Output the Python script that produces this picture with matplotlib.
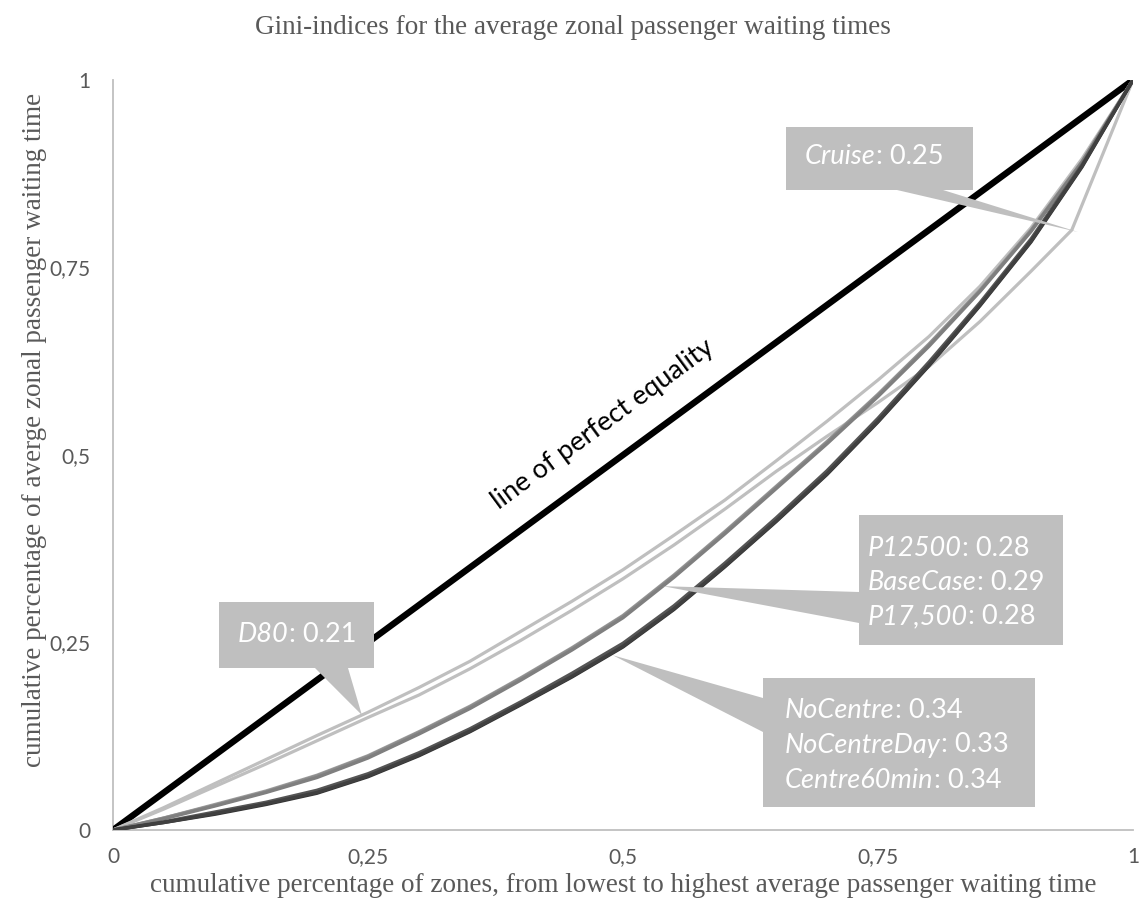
import numpy as np
import matplotlib
matplotlib.use("Agg")
import matplotlib.pyplot as plt
from matplotlib.patches import Polygon

# ---------------- data ----------------
x = [0.00, 0.05, 0.10, 0.15, 0.20, 0.25, 0.30, 0.35, 0.40, 0.45, 0.50,
     0.55, 0.60, 0.65, 0.70, 0.75, 0.80, 0.85, 0.90, 0.95, 1.00]

d80 = [0, 0.030, 0.062, 0.094, 0.126, 0.157, 0.190, 0.225, 0.265, 0.305, 0.347,
       0.393, 0.440, 0.492, 0.545, 0.600, 0.658, 0.725, 0.803, 0.895, 1]

cruise_x = [0.00, 0.05, 0.10, 0.15, 0.20, 0.25, 0.30, 0.35, 0.40, 0.45, 0.50,
            0.55, 0.60, 0.65, 0.70, 0.75, 0.80, 0.85, 0.90, 0.94, 0.97, 1.00]
cruise = [0, 0.028, 0.058, 0.088, 0.119, 0.150, 0.180, 0.215, 0.253, 0.293, 0.335,
          0.380, 0.428, 0.478, 0.525, 0.570, 0.618, 0.678, 0.745, 0.800, 0.900, 1]

p12500 = [0, 0.016, 0.034, 0.052, 0.073, 0.099, 0.131, 0.165, 0.203, 0.243, 0.286,
          0.340, 0.398, 0.458, 0.518, 0.581, 0.648, 0.720, 0.800, 0.891, 1]
basecase = [0, 0.015, 0.032, 0.050, 0.070, 0.096, 0.128, 0.162, 0.200, 0.240, 0.283,
            0.337, 0.395, 0.455, 0.515, 0.578, 0.645, 0.718, 0.798, 0.890, 1]
p17500 = [0, 0.016, 0.033, 0.051, 0.072, 0.098, 0.130, 0.164, 0.202, 0.242, 0.285,
          0.339, 0.397, 0.457, 0.517, 0.580, 0.647, 0.719, 0.799, 0.891, 1]

nocentre = [0, 0.010, 0.022, 0.035, 0.050, 0.072, 0.100, 0.132, 0.168, 0.205, 0.245,
            0.295, 0.352, 0.412, 0.475, 0.545, 0.620, 0.700, 0.785, 0.885, 1]
nocentreday = [0, 0.011, 0.024, 0.037, 0.053, 0.075, 0.103, 0.135, 0.171, 0.209, 0.249,
               0.299, 0.356, 0.416, 0.479, 0.549, 0.624, 0.703, 0.788, 0.887, 1]
centre60min = [0, 0.010, 0.021, 0.034, 0.049, 0.071, 0.099, 0.131, 0.167, 0.204, 0.244,
               0.294, 0.351, 0.411, 0.474, 0.544, 0.619, 0.699, 0.784, 0.884, 1]

equality = [0, 1]

ticks = [0, 0.25, 0.5, 0.75, 1]
tick_labels = ["0", "0,25", "0,5", "0,75", "1"]

callout_texts = {
    "cruise": [("Cruise", "0.25")],
    "d80": [("D80", "0.21")],
    "mid": [("P12500", "0.28"), ("BaseCase", "0.29"), ("P17,500", "0.28")],
    "dark": [("NoCentre", "0.34"), ("NoCentreDay", "0.33"), ("Centre60min", "0.34")],
}

# ---------------- figure ----------------
W, H = 1145, 915
fig = plt.figure(figsize=(W / 100, H / 100), dpi=100)
L, R, T, B = 113, 1133, 80, 830
ax = fig.add_axes([L / W, 1 - B / H, (R - L) / W, (B - T) / H])
ax.set_xlim(0, 1)
ax.set_ylim(0, 1)

def px(xp, yp):
    """pixel position of the reference -> axes/data coordinates"""
    return ((xp - L) / (R - L), (B - yp) / (B - T))

ax.plot(equality, equality, color="black", lw=4.6, solid_capstyle="butt", zorder=2)

light = "#BFBFBF"
ax.plot(cruise_x, cruise, color=light, lw=2.3, zorder=3)
ax.plot(x, d80, color=light, lw=2.3, zorder=3)
ax.plot(x, p12500, color="#A0A0A0", lw=2.4, zorder=3)
ax.plot(x, p17500, color="#8C8C8C", lw=2.4, zorder=3)
ax.plot(x, basecase, color="#7F7F7F", lw=2.4, zorder=3)
ax.plot(x, nocentreday, color="#555555", lw=2.4, zorder=3)
ax.plot(x, centre60min, color="#333333", lw=2.4, zorder=3)
ax.plot(x, nocentre, color="#404040", lw=2.4, zorder=3)

for s in ["top", "right"]:
    ax.spines[s].set_visible(False)
for s in ["left", "bottom"]:
    ax.spines[s].set_color("#BFBFBF")
    ax.spines[s].set_linewidth(1.3)
    ax.spines[s].set_zorder(1)

tickfont = dict(family="Lato", size=15, color="#595959")
ax.set_xticks(ticks)
ax.set_xticklabels(tick_labels, **tickfont)
ax.set_yticks(ticks)
ax.set_yticklabels(tick_labels, **tickfont)
ax.tick_params(axis="both", length=0)
ax.tick_params(axis="x", pad=12)
ax.tick_params(axis="y", pad=16)

serif = dict(family="Liberation Serif", size=19.5, color="#595959")
fig.text(0.5, 1 - 27 / H, "Gini-indices for the average zonal passenger waiting times",
         ha="center", va="center", **serif)
fig.text((L + R) / 2 / W, 1 - 885 / H,
         "cumulative percentage of zones, from lowest to highest average passenger waiting time",
         ha="center", va="center", **serif)
fig.text(35 / W, 1 - 430 / H, "cumulative percentage of averge zonal passenger waiting time",
         ha="center", va="center", rotation=90, **serif)

# line of perfect equality label
ang = np.degrees(np.arctan2((B - T), (R - L)))
ax.text(*px(603, 424), "line of perfect equality", rotation=ang, rotation_mode="anchor",
        ha="center", va="center", family="Lato", size=19.5, color="black", zorder=4)

# ---------------- callouts ----------------
gray = "#BFBFBF"
cfs = 19.5

def callout(box, wedge, tip, lines, text_x, text_ys):
    (x0, y0), (x1, y1) = px(*box[0]), px(*box[1])
    ax.add_patch(Polygon([(x0, y0), (x1, y0), (x1, y1), (x0, y1)], closed=True,
                         facecolor=gray, edgecolor="none", zorder=6))
    w1, w2 = px(*wedge[0]), px(*wedge[1])
    ax.add_patch(Polygon([w1, tip, w2], closed=True, facecolor=gray,
                         edgecolor="none", zorder=6))
    for (name, val), ty in zip(lines, text_ys):
        t = ax.text(*px(text_x, ty), name, ha="left", va="center", style="italic",
                    family="Lato", size=cfs, color="white", zorder=7)
        ax.annotate(": " + val, xy=(1, 0), xycoords=t, ha="left", va="bottom",
                    family="Lato", size=cfs, color="white", zorder=7)

callout([(786, 127), (973, 190)], [(897, 190), (943, 190)], px(1078, 232),
        callout_texts["cruise"], 805, [156])
d80_tip_x = 0.244
callout([(219, 602), (374, 668)], [(315, 668), (348, 668)],
        (d80_tip_x, float(np.interp(d80_tip_x, x, d80))),
        callout_texts["d80"], 238, [634])
mid_tip_x = 0.539
callout([(859, 515), (1063, 645)], [(859, 592), (859, 623)],
        (mid_tip_x, float(np.interp(mid_tip_x, x, basecase))),
        callout_texts["mid"], 868, [548, 583, 617])
dark_tip_x = 0.49
callout([(763, 678), (1035, 807)], [(763, 698), (763, 732)],
        (dark_tip_x, float(np.interp(dark_tip_x, x, nocentre)) - 0.004),
        callout_texts["dark"], 785, [710, 745, 780])

fig.savefig("out.png", dpi=100)
